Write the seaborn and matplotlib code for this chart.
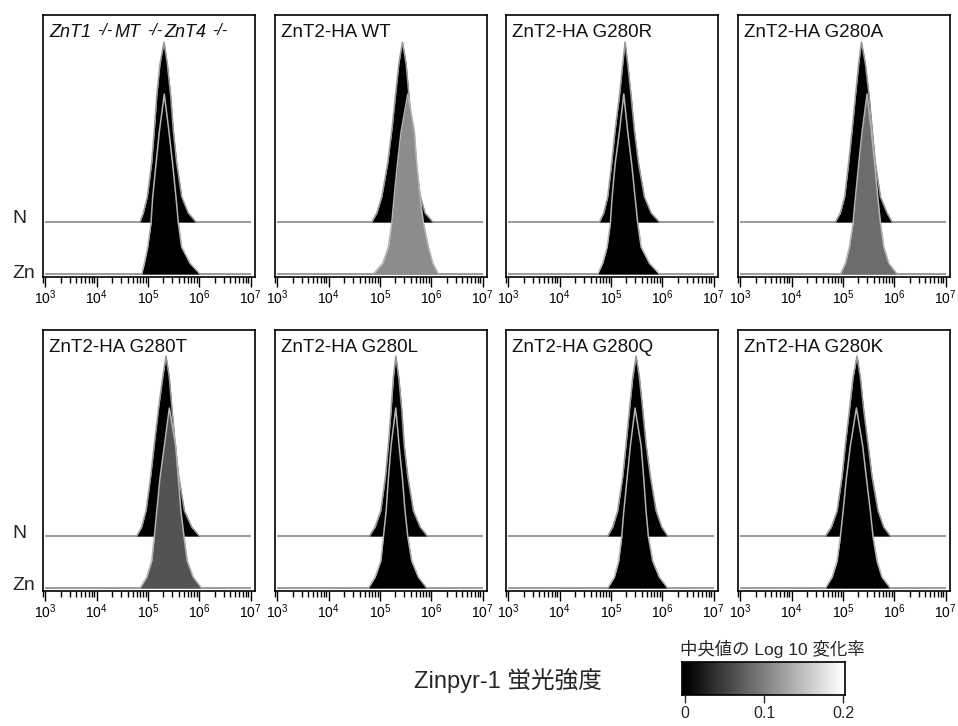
import numpy as np
import matplotlib
matplotlib.use("Agg")
import matplotlib.pyplot as plt
import seaborn as sns
from matplotlib.ticker import LogLocator, NullFormatter, FixedLocator

# ---------------- data ----------------
# first panel title: (text, is_superscript) pieces, all italic
TITLE1_PIECES = [("ZnT1", False), ("-/-", True), ("MT", False), ("-/-", True),
                 ("ZnT4", False), ("-/-", True)]
PANEL_TITLES = [
    None,
    "ZnT2-HA WT", "ZnT2-HA G280R", "ZnT2-HA G280A",
    "ZnT2-HA G280T", "ZnT2-HA G280L", "ZnT2-HA G280Q", "ZnT2-HA G280K",
]
ROW_LABELS = ["N", "Zn"]

# histogram outline heights (% of mode) at the sampled outline points
N_LEVELS = [0, 5, 14, 33, 51, 70, 88, 100, 88, 70, 51, 33, 14, 5, 0]
ZN_LEVELS = [0, 6, 15, 28.5, 42.5, 61, 79, 100, 79, 61, 42.5, 28.5, 15, 6, 0]

# log10 fluorescence positions of the outline points, one list per panel
N_LOG10 = [
    [4.844, 4.908, 4.986, 5.072, 5.123, 5.170, 5.234, 5.312, 5.376, 5.443, 5.493, 5.559, 5.657, 5.786, 5.936],
    [4.840, 4.938, 5.035, 5.152, 5.230, 5.300, 5.367, 5.437, 5.509, 5.565, 5.625, 5.690, 5.790, 5.879, 6.029],
    [4.774, 4.858, 4.936, 5.014, 5.080, 5.164, 5.229, 5.275, 5.326, 5.392, 5.456, 5.534, 5.651, 5.782, 5.943],
    [4.852, 4.949, 5.033, 5.111, 5.177, 5.242, 5.306, 5.359, 5.437, 5.510, 5.570, 5.630, 5.730, 5.860, 5.957],
    [4.780, 4.877, 4.961, 5.052, 5.123, 5.201, 5.286, 5.351, 5.416, 5.470, 5.530, 5.600, 5.710, 5.852, 6.000],
    [4.794, 4.904, 5.015, 5.106, 5.164, 5.216, 5.261, 5.308, 5.366, 5.425, 5.470, 5.542, 5.651, 5.782, 5.924],
    [4.936, 5.034, 5.131, 5.229, 5.294, 5.359, 5.424, 5.489, 5.554, 5.619, 5.684, 5.768, 5.879, 5.989, 6.106],
    [4.657, 4.774, 4.885, 4.982, 5.047, 5.125, 5.196, 5.274, 5.339, 5.404, 5.488, 5.566, 5.683, 5.793, 5.923],
]
ZN_LOG10 = [
    [4.877, 4.929, 4.994, 5.059, 5.091, 5.156, 5.221, 5.318, 5.409, 5.481, 5.546, 5.591, 5.656, 5.819, 6.014],
    [4.871, 5.054, 5.164, 5.230, 5.275, 5.339, 5.411, 5.542, 5.671, 5.717, 5.782, 5.846, 5.944, 6.029, 6.138],
    [4.741, 4.838, 4.924, 4.988, 5.021, 5.080, 5.164, 5.249, 5.326, 5.404, 5.470, 5.521, 5.587, 5.749, 5.943],
    [4.949, 5.047, 5.125, 5.196, 5.242, 5.306, 5.372, 5.469, 5.554, 5.619, 5.678, 5.730, 5.795, 5.893, 6.055],
    [4.844, 4.975, 5.072, 5.123, 5.170, 5.234, 5.318, 5.416, 5.540, 5.591, 5.643, 5.702, 5.766, 5.883, 6.046],
    [4.774, 4.904, 5.015, 5.067, 5.119, 5.164, 5.216, 5.308, 5.372, 5.437, 5.489, 5.542, 5.620, 5.749, 5.912],
    [4.936, 5.066, 5.150, 5.209, 5.249, 5.314, 5.378, 5.469, 5.587, 5.638, 5.684, 5.729, 5.813, 5.943, 6.106],
    [4.657, 4.787, 4.885, 4.949, 5.001, 5.066, 5.144, 5.261, 5.384, 5.456, 5.534, 5.586, 5.664, 5.761, 5.923],
]
# log10 fold change of the median (Zn vs N) -> fill shade of the Zn histogram
MEDIAN_LOG10_FC = [0.0, 0.11, 0.0, 0.085, 0.065, 0.0, 0.0, 0.0]

XTICK_EXPONENTS = [3, 4, 5, 6, 7]
CBAR_TICKS = [0, 0.1, 0.2]
CBAR_TICKLABELS = ["0", "0.1", "0.2"]
CBAR_RANGE = (0.0, 0.2)
XLABEL = "Zinpyr-1 蛍光強度"
CBAR_TITLE = "中央値の Log 10 変化率"

# ---------------- style ----------------
sns.set_style("white")
plt.rcParams["font.family"] = ["Liberation Sans", "Noto Sans CJK JP"]
plt.rcParams["mathtext.fontset"] = "custom"
plt.rcParams["mathtext.rm"] = "Liberation Sans"
plt.rcParams["mathtext.it"] = "Liberation Sans:italic"
plt.rcParams["mathtext.bf"] = "Liberation Sans:bold"
plt.rcParams["mathtext.default"] = "regular"

W, H = 958, 726
fig = plt.figure(figsize=(W / 100, H / 100), dpi=100)


def rect(x0, y0, x1, y1):
    return [x0 / W, 1 - y1 / H, (x1 - x0) / W, (y1 - y0) / H]


PX_PER_UNIT = 1.8
N_OFFSET = 52 / PX_PER_UNIT
LEFTS = [43, 275, 506, 738]
BOX_W = 212
ROWS = [(15, 277), (330, 591)]
DEC_PX = 51.3
cmap = plt.get_cmap("gray")
OUTLINE_N = "#9a9a9a"
OUTLINE_ZN = "#b4b4b4"
BASE_C = "#8a8a8a"
TITLE_FS = 13.5
TXT_C = "#111111"

for i in range(8):
    r, c = divmod(i, 4)
    top, bot = ROWS[r]
    x0 = LEFTS[c]
    ax = fig.add_axes(rect(x0, top, x0 + BOX_W, bot))
    ax.set_xscale("log")
    xl0 = 3 - 2.4 / DEC_PX
    xl1 = 3 + (BOX_W - 2.4) / DEC_PX
    ax.set_xlim(10 ** xl0, 10 ** xl1)
    h = bot - top
    ax.set_ylim(-3 / PX_PER_UNIT, (h - 3) / PX_PER_UNIT)

    ax.hlines([0, N_OFFSET], 1e3, 1e7, color=BASE_C, lw=1.2, zorder=1)

    xn = 10 ** np.array(N_LOG10[i])
    yn = np.array(N_LEVELS, dtype=float)
    ax.fill_between(xn, N_OFFSET, N_OFFSET + yn, color="black", lw=0, zorder=2)
    sns.lineplot(x=xn, y=N_OFFSET + yn, ax=ax, color=OUTLINE_N, lw=1.1,
                 sort=False, estimator=None, zorder=3)

    xz = 10 ** np.array(ZN_LOG10[i])
    yz = np.array(ZN_LEVELS, dtype=float)
    shade = cmap(np.clip((MEDIAN_LOG10_FC[i] - CBAR_RANGE[0]) / (CBAR_RANGE[1] - CBAR_RANGE[0]), 0, 1))
    ax.fill_between(xz, 0, yz, color=shade, lw=0, zorder=4)
    sns.lineplot(x=xz, y=yz, ax=ax, color=OUTLINE_ZN, lw=1.1,
                 sort=False, estimator=None, zorder=5)

    for s in ax.spines.values():
        s.set_visible(True)
        s.set_color("black")
        s.set_linewidth(1.2)
    ax.set_yticks([])
    ax.set_xticks([10.0 ** e for e in XTICK_EXPONENTS])
    ax.set_xticklabels([r"$10^{%d}$" % e for e in XTICK_EXPONENTS])
    ax.xaxis.set_minor_locator(LogLocator(base=10, subs=np.arange(2, 10), numticks=20))
    ax.xaxis.set_minor_formatter(NullFormatter())
    ax.tick_params(axis="x", which="major", direction="out", length=7, width=1.0,
                   pad=1.5, labelsize=10, bottom=True, colors="black")
    ax.tick_params(axis="x", which="minor", direction="out", length=4, width=1.0,
                   bottom=True, colors="black")
    ax.set_xlabel("")
    ax.set_ylabel("")

    tx, ty = 6 / BOX_W, 1 - 9 / h
    if PANEL_TITLES[i] is not None:
        ax.text(tx, ty, PANEL_TITLES[i], transform=ax.transAxes,
                ha="left", va="top", fontsize=TITLE_FS, color=TXT_C)
    else:
        base = None
        prev = None
        for txt, sup in TITLE1_PIECES:
            if base is None:
                base = ax.text(tx, ty, txt, transform=ax.transAxes, ha="left",
                               va="top", fontsize=13, style="italic", color=TXT_C)
                prev = base
            elif sup:
                prev = ax.annotate(txt, xy=(1, 1.08), xycoords=(prev, base),
                                   xytext=(4.5, 0), textcoords="offset points",
                                   ha="left", va="top", fontsize=11.5,
                                   style="italic", color=TXT_C)
            else:
                prev = ax.annotate(txt, xy=(1, 0), xycoords=(prev, base),
                                   xytext=(1.5, 0), textcoords="offset points",
                                   ha="left", va="bottom", fontsize=13,
                                   style="italic", color=TXT_C)

# row labels
for (top, bot), (yN, yZ) in zip(ROWS, [(223, 278), (538, 590)]):
    fig.text(12 / W, 1 - yN / H, ROW_LABELS[0], fontsize=14, va="baseline", ha="left")
    fig.text(12 / W, 1 - yZ / H, ROW_LABELS[1], fontsize=14, va="baseline", ha="left")

fig.text(507.5 / W, 1 - 681 / H, XLABEL, ha="center", va="center", fontsize=17)

# colour bar
cax = fig.add_axes(rect(682, 662, 845, 695))
lo = CBAR_RANGE[0] - 3 * (CBAR_RANGE[1] - CBAR_RANGE[0]) / 158
hi = CBAR_RANGE[1] + 2 * (CBAR_RANGE[1] - CBAR_RANGE[0]) / 158
grad = np.clip(np.linspace(lo, hi, 400), *CBAR_RANGE)[None, :]
cax.imshow(grad, cmap="gray", vmin=CBAR_RANGE[0], vmax=CBAR_RANGE[1],
           aspect="auto", extent=[lo, hi, 0, 1])
cax.set_xlim(lo, hi)
cax.set_yticks([])
cax.xaxis.set_major_locator(FixedLocator(CBAR_TICKS))
cax.set_xticklabels(CBAR_TICKLABELS)
cax.tick_params(axis="x", direction="out", length=6, width=1.0, pad=2,
                labelsize=11.5, bottom=True)
for s in cax.spines.values():
    s.set_visible(True)
    s.set_color("black")
    s.set_linewidth(1.2)
fig.text(680 / W, 1 - 649 / H, CBAR_TITLE, ha="left", va="center", fontsize=12.5)

fig.savefig("out.png", dpi=100)
